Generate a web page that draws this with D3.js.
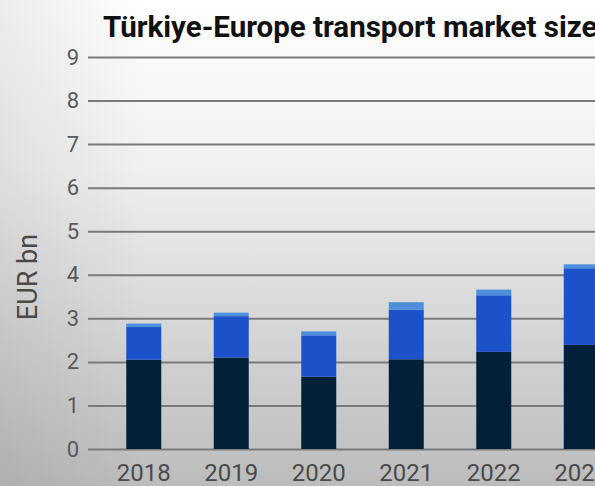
<!DOCTYPE html>
<html>
<head>
<meta charset="utf-8">
<script src="https://cdn.jsdelivr.net/npm/d3@7"></script>
<style>
  html, body { margin: 0; padding: 0; overflow: hidden; }
  body { width: 595px; height: 486px; }
</style>
</head>
<body>
<div id="chart"></div>
<script>
// datos (EUR bn)
const years = ["2018", "2019", "2020", "2021", "2022", "2023"];
const road = [2.05, 2.10, 1.66, 2.06, 2.23, 2.39];
const sea = [0.75, 0.95, 0.95, 1.14, 1.30, 1.76];
const other = [0.08, 0.08, 0.09, 0.17, 0.13, 0.09];
const yTicks = [0, 1, 2, 3, 4, 5, 6, 7, 8, 9];

const width = 595, height = 486;
const colores = ["#03203b", "#1b51c9", "#4d8fdc"];

const svg = d3.select("#chart").append("svg")
  .attr("width", width)
  .attr("height", height);

// fondo con degradado
const defs = svg.append("defs");
const grad = defs.append("linearGradient").attr("id", "bg")
  .attr("x1", 0).attr("y1", 0).attr("x2", 0).attr("y2", 1);
grad.append("stop").attr("offset", "0%").attr("stop-color", "#ffffff");
grad.append("stop").attr("offset", "35%").attr("stop-color", "#f0f0f0");
grad.append("stop").attr("offset", "100%").attr("stop-color", "#bcbcbc");
const gradL = defs.append("linearGradient").attr("id", "bgL")
  .attr("x1", 0).attr("y1", 0).attr("x2", 1).attr("y2", 0);
gradL.append("stop").attr("offset", "0%").attr("stop-color", "#000").attr("stop-opacity", 0.07);
gradL.append("stop").attr("offset", "25%").attr("stop-color", "#000").attr("stop-opacity", 0);

svg.append("rect").attr("width", width).attr("height", height).attr("fill", "url(#bg)");
svg.append("rect").attr("width", width).attr("height", height).attr("fill", "url(#bgL)");

const x = d3.scaleBand()
  .domain(years)
  .range([100, 625])
  .paddingInner(0.6)
  .paddingOuter(0.3);

const y = d3.scaleLinear()
  .domain([0, 9])
  .range([449, 57]);

// lineas de la grilla
svg.append("g")
  .call(d3.axisLeft(y).tickValues(yTicks).tickSize(-(width - 88)).tickPadding(9))
  .attr("transform", "translate(88,0)")
  .call(g => g.select(".domain").remove())
  .call(g => g.selectAll(".tick line").attr("stroke", "#7a7a7a").attr("stroke-width", 2))
  .call(g => g.selectAll(".tick text")
    .attr("fill", "#5a5a5a")
    .attr("font-family", "Roboto, sans-serif")
    .attr("font-size", 22));

// apilar series
const filas = years.map((yr, i) => ({ year: yr, road: road[i], sea: sea[i], other: other[i] }));
const stack = d3.stack().keys(["road", "sea", "other"])(filas);

svg.append("g").selectAll("g")
  .data(stack)
  .enter().append("g")
    .attr("fill", (d, i) => colores[i])
  .selectAll("rect")
  .data(d => d)
  .enter().append("rect")
    .attr("x", d => x(d.data.year))
    .attr("width", x.bandwidth())
    .attr("y", d => y(d[1]))
    .attr("height", d => y(d[0]) - y(d[1]));

// eje x
svg.append("g")
  .attr("transform", "translate(0,449)")
  .call(d3.axisBottom(x).tickSize(0).tickPadding(15))
  .call(g => g.select(".domain").remove())
  .call(g => g.selectAll(".tick text")
    .attr("fill", "#4a4a4a")
    .attr("font-family", "Roboto, sans-serif")
    .attr("font-size", 24));

// titulo y etiqueta
svg.append("text")
  .attr("x", 103)
  .attr("y", 37)
  .attr("font-family", "Roboto, sans-serif")
  .attr("font-weight", "bold")
  .attr("font-size", 29.5)
  .attr("fill", "#111")
  .text("Türkiye-Europe transport market size");

svg.append("text")
  .attr("transform", "translate(37,277) rotate(-90)")
  .attr("text-anchor", "middle")
  .attr("font-family", "Roboto, sans-serif")
  .attr("font-size", 27)
  .attr("fill", "#4a4a4a")
  .text("EUR bn");
</script>
</body>
</html>
